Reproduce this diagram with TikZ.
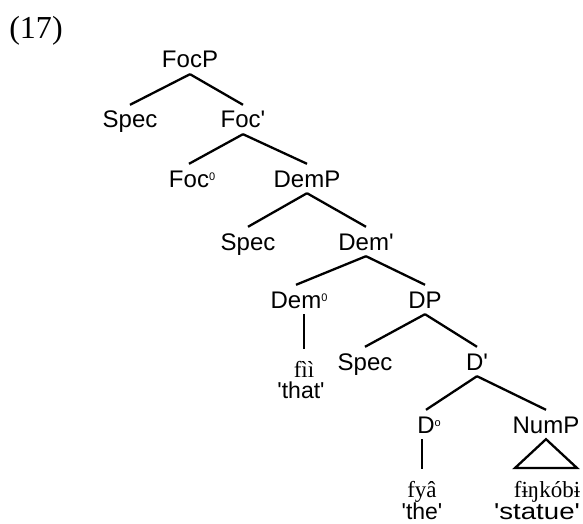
\documentclass[tikz,border=0pt]{standalone}
\usepackage{fontspec}
\setmainfont{Liberation Serif}
\newfontfamily\catfont{Liberation Sans}
\begin{document}
\begin{tikzpicture}[x=1pt,y=-1pt,
  cat/.style={font=\catfont\fontsize{24}{24}\selectfont, anchor=base,
    text height=17pt, text depth=0pt, inner xsep=0pt, inner ysep=6pt},
  word/.style={font=\fontsize{23}{23}\selectfont, anchor=base,
    text height=15pt, text depth=0pt, inner xsep=0pt, inner ysep=13pt},
  gloss/.style={font=\catfont\fontsize{23}{23}\selectfont, anchor=base, inner sep=0pt},
  branch/.style={line width=2.3pt}]
\useasboundingbox (0,0) rectangle (583,524);

\newcommand{\zsup}[1]{\rlap{\raisebox{7pt}{\fontsize{11}{11}\selectfont #1}}}

% example number
\node[font=\fontsize{32}{32}\selectfont, anchor=base, inner sep=0pt] (num) at (36,39) {(17)};

% categories
\node[cat] (FocP)  at (190,68)  {FocP};
\node[cat] (Spec1) at (130,128) {Spec};
\node[cat] (Focb)  at (243,128) {Foc\textquotesingle};
\node[cat] (Foc0)  at (189,187) {Foc\zsup{0}};
\node[cat] (DemP)  at (307,187) {DemP};
\node[cat] (Spec2) at (248,250) {Spec};
\node[cat] (Demb)  at (366,250) {Dem\textquotesingle};
\node[cat] (Dem0)  at (296,308) {Dem\zsup{0}};
\node[cat] (DP)    at (425,308) {DP};
\node[cat] (Spec3) at (365,370) {Spec};
\node[cat] (Db)    at (477,370) {D\textquotesingle};
\node[cat] (D0)    at (426,433) {D\zsup{o}};
\node[cat] (NumP)  at (546,433) {NumP};

% words and glosses
\node[word] (fii)  at (304,377) {fìì};
\node[gloss] (that) at (301,398) {\textquotesingle that\textquotesingle};
\node[word] (fya)  at (422,497) {fyâ};
\node[gloss] (the)  at (422,519) {\textquotesingle the\textquotesingle};
\node[word] (statuew) at (547,497) {fɨŋkóbɨ};
\node[gloss] (statue) at (537,519) {\scalebox{1.2}[1]{\textquotesingle statue\textquotesingle}};

% branches
\draw[branch] (FocP.south) -- (Spec1.north);
\draw[branch] (FocP.south) -- (Focb.north);
\draw[branch] (Focb.south) -- (Foc0.north);
\draw[branch] (Focb.south) -- (DemP.north);
\draw[branch] (DemP.south) -- (Spec2.north);
\draw[branch] (DemP.south) -- (Demb.north);
\draw[branch] (Demb.south) -- (Dem0.north);
\draw[branch] (Demb.south) -- (DP.north);
\draw[branch] (DP.south) -- (Spec3.north);
\draw[branch] (DP.south) -- (Db.north);
\draw[branch] (Db.south) -- (D0.north);
\draw[branch] (Db.south) -- (NumP.north);
\draw[branch] (Dem0.south -| fii.north) -- (fii.north);
\draw[branch] (D0.south -| fya.north) -- (fya.north);

% triangle over NumP
\coordinate (triL) at (515,468);
\coordinate (triR) at (577,468);
\draw[branch, line join=miter] (NumP.south) -- (triL) -- (triR) -- cycle;
\end{tikzpicture}
\end{document}
